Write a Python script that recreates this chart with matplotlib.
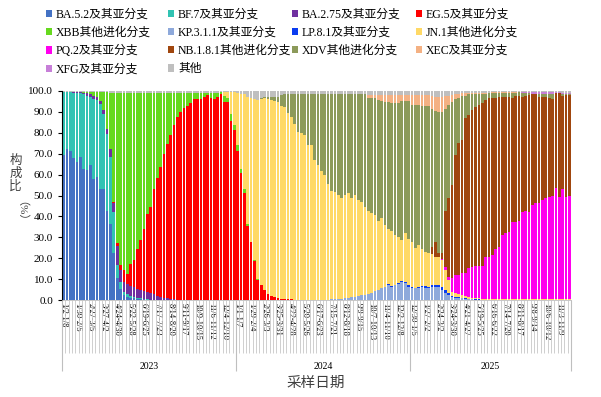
import numpy as np
import matplotlib
matplotlib.use('Agg')
from matplotlib import pyplot as plt
from matplotlib.patches import Patch
import matplotlib.transforms as mtransforms

plt.rcParams['font.family'] = ['Liberation Serif', 'Noto Sans CJK SC']

years = ['2023', '2024', '2025']
weeks_per_year = [52, 52, 48]

tick_labels_2023 = ['1/2-1/8', '1/30-2/5', '2/27-3/5', '3/27-4/2', '4/24-4/30', '5/22-5/28', '6/19-6/25',
                    '7/17-7/23', '8/14-8/20', '9/11-9/17', '10/9-10/15', '11/6-11/12', '12/4-12/10']
tick_labels_2024 = ['1/1-1/7', '1/29-2/4', '2/26-3/3', '3/25-3/31', '4/22-4/28', '5/20-5/26', '6/17-6/23',
                    '7/15-7/21', '8/12-8/18', '9/9-9/15', '10/7-10/13', '11/4-11/10', '12/2-12/8']
tick_labels_2025 = ['12/30-1/5', '1/27-2/2', '2/24-3/2', '3/24-3/30', '4/21-4/27', '5/19-5/25', '6/16-6/22',
                    '7/14-7/20', '8/11-8/17', '9/8-9/14', '10/6-10/12', '11/3-11/9']

# 构成比 (%)，每周一根柱子：2023 / 2024 / 2025
ba52 = [69.5, 72.3, 71.3, 68.0, 66.0, 68.6, 62.7, 62.0, 64.8, 58.1, 58.7, 52.9, 52.9,
        42.5, 36.5, 22.7, 10.5, 5.5, 2.5, 1.5, 1.0, 0.8, 0.6, 0.5, 0.4, 0.3,
        0.2, 0.2, 0.1, 0.1, 0.1] + [0] * 21 + [0] * 52 + [0] * 48
bf7 = [30.0, 27.2, 28.0, 31.2, 33.2, 30.2, 35.6, 35.8, 32.5, 38.2, 36.8, 40.8, 36.2,
       37.0, 32.0, 19.5, 6.5, 3.0, 1.5, 1.2, 0.8, 0.5, 0.4, 0.3, 0.2, 0.2,
       0.1, 0.1, 0.1] + [0] * 23 + [0] * 52 + [0] * 48
ba275 = [0, 0, 0.2, 0.3, 0.3, 0.5, 0.7, 1.0, 1.2, 1.5, 1.5, 1.5, 1.8,
         2.5, 3.5, 4.3, 9.0, 6.0, 4.5, 5.0, 5.0, 4.8, 4.5, 4.2, 4.0, 3.5,
         3.0, 2.5, 2.0, 1.5, 1.0, 0.8, 0.5, 0.4, 0.3, 0.2, 0.2, 0.1, 0.1,
         0.1] + [0] * 12 + [0] * 52 + [0] * 48
eg5 = ([0] * 15 +
       [0.6, 1.5, 2.5, 6.0, 4.7, 10.5, 13.1, 18.9, 23.7, 29.4, 37.0, 41.1, 50.2,
        56.4, 62.2, 68.6, 73.8, 78.5, 83.2, 87.2, 89.5, 91.4, 92.8, 94.3, 95.8,
        96.1, 96.2, 97.3, 98.2, 96.8, 96.2, 97.0, 98.5, 94.8, 94.5, 85.4, 81.3] +
       [71.5, 61.0, 51.0, 35.6, 27.6, 18.8, 9.6, 7.2, 4.8, 2.7, 2.1, 1.3, 1.0,
        0.7, 0.6, 0.5, 0.4, 0.3, 0.3, 0.2, 0.2, 0.1, 0.1, 0.1] + [0] * 28 + [0] * 48)
xbb = ([0, 0, 0, 0, 0, 0.2, 0.5, 0.7, 1.0, 1.7, 2.5, 4.3, 8.6,
        17.5, 27.0, 52.0, 71.5, 82.0, 84.5, 86.6, 81.7, 79.8, 74.6, 70.3, 65.0, 58.0,
        54.6, 46.0, 40.4, 35.2, 29.3, 24.4, 20.0, 15.4, 11.5, 9.3, 7.4, 6.1, 4.6,
        3.1, 2.9, 2.8, 1.7, 0.8, 2.2, 2.8, 2.0, 1.0, 2.7, 2.0, 3.5, 2.4] +
       [2.5, 1.8, 2.0, 0.6, 0.4, 0.3, 0.3, 0.2, 0.1, 0.1] + [0] * 42 + [0] * 48)
kp311 = ([0] * 52 + [0] * 28 +
         [0.5, 0.5, 0.5, 0.5, 0.8, 1.2, 1.6, 1.6, 2.0, 2.4, 2.4, 2.8, 3.2,
          4.5, 5.0, 5.8, 6.4, 7.2, 6.4, 7.0, 7.6, 8.8, 8.0, 6.4] +
         [6.0, 5.6, 5.8, 6.4, 6.0, 5.6, 6.2, 6.4, 6.4, 5.0, 3.5, 2.4, 1.5,
          1.2, 1.0, 0.8, 0.6, 0.5, 0.4, 0.3, 0.3, 0.2, 0.2, 0.2,
          0.1, 0.1, 0.1, 0.1, 0.1, 0.1, 0.1, 0.1, 0.1, 0.1, 0.1, 0.1,
          0.1, 0.1, 0.1, 0.1, 0.1, 0.1, 0.1, 0.1, 0.1, 0.1, 0.1, 0.1])
lp81 = ([0] * 52 + [0] * 45 + [0.3, 0.4, 0.3, 0.5, 0.4, 0.5, 0.6] +
        [0.3, 0.4, 0.5, 0.5, 0.6, 0.8, 0.8, 1.0, 1.0, 1.2, 1.2, 0.8, 0.5,
         0.4, 0.3, 0.3, 0.2, 0.2, 0.1, 0.1, 0.1, 0.1] + [0] * 26)
jn1 = ([0] * 48 + [2.0, 3.0, 10.5, 15.8] +
       [25.0, 35.7, 45.5, 60.8, 68.5, 76.9, 85.6, 88.6, 91.6, 93.2, 93.4, 93.7, 93.5,
        92.3, 91.9, 88.8, 87.2, 83.7, 80.2, 79.5, 78.8, 73.9, 73.9, 66.9, 64.6, 61.7,
        60.0, 55.3, 51.5, 51.0, 49.7, 48.5, 49.4, 49.8, 47.0, 48.6, 45.8, 44.6, 42.3,
        39.8, 38.6, 36.2, 32.8, 33.6, 29.5, 26.5, 26.2, 23.8, 22.2, 19.5, 23.4, 22.2] +
       [21.6, 18.7, 20.0, 17.5, 16.6, 16.0, 15.2, 13.3, 13.3, 13.0, 9.5, 6.4, 2.0,
        1.8, 1.5, 1.2, 1.0, 0.8, 0.7, 0.6, 0.5, 0.4, 0.3, 0.3,
        0.3, 0.3, 0.3, 0.3, 0.3, 0.3, 0.3, 0.3, 0.3, 0.3, 0.3, 0.3,
        0.3, 0.3, 0.3, 0.3, 0.3, 0.3, 0.3, 0.3, 0.3, 0.3, 0.3, 0.3])
pq2 = ([0] * 52 + [0] * 52 + [0] * 9 +
       [0.3, 1.5, 1.6, 6.4, 8.6, 9.2, 10.5, 11.0, 13.7, 14.8, 15.3, 15.4, 15.6,
        20.2, 20.2, 21.1, 24.1, 25.1, 30.6, 31.5, 32.1, 36.8, 37.1, 37.6, 41.9,
        42.2, 41.6, 45.1, 45.9, 46.1, 47.6, 48.2, 49.0, 49.6, 53.0, 49.0, 52.7,
        49.0, 49.4])
nb181 = ([0] * 52 + [0] * 52 + [0] * 6 +
         [3.0, 7.0, 2.0, 3.0, 26.8, 37.4, 44.6, 57.4, 63.0, 63.8, 74.2, 73.3, 75.0,
          76.2, 77.0, 77.7, 75.0, 75.8, 75.3, 72.3, 71.7, 66.2, 65.1, 64.5, 59.6,
          60.0, 59.5, 54.7, 54.9, 56.2, 52.8, 52.0, 50.7, 49.2, 48.4, 47.1, 46.2,
          45.4, 49.8, 44.7, 48.6, 48.2])
xdv = ([0] * 52 + [0] * 7 +
       [0.5, 0.5, 1.0, 1.5, 2.0, 2.5, 5.0, 6.0, 9.3, 11.0, 14.6, 18.1, 18.9,
        19.6, 24.6, 24.6, 31.6, 34.0, 36.9, 38.6, 43.3, 46.6, 47.1, 48.4, 49.6,
        48.4, 47.6, 50.0, 48.4, 50.8, 51.6, 53.9, 54.2, 54.6, 55.7, 57.8, 55.6,
        58.9, 60.8, 61.0, 62.9, 63.7, 66.3, 63.4, 66.1] +
       [65.3, 68.5, 66.9, 68.5, 69.7, 70.5, 66.3, 62.9, 67.3, 67.5, 49.0, 44.9, 39.5,
        26.6, 21.5, 20.9, 10.8, 9.8, 7.5, 6.0, 5.3, 4.7, 3.0, 2.4, 2.3, 2.3,
        1.9, 1.9, 2.1, 2.1, 2.3, 1.6, 1.8, 1.8, 1.3, 0.6, 0.4, 0.4, 1.5,
        1.5, 1.6, 2.1, 2.4, 0.0, 0.0, 0.6, 0.4, 0.4])
xec = ([0] * 52 + [0] * 39 +
       [1.2, 1.6, 1.6, 2.4, 3.0, 3.2, 3.2, 4.0, 4.0, 4.0, 3.0, 2.7, 2.7] +
       [4.8, 4.8, 4.8, 5.1, 5.1, 5.1, 6.0, 6.4, 7.0, 7.0, 6.0, 4.0, 3.5,
        2.5, 2.0, 1.5, 1.2, 0.7, 0.5, 0.5, 0.4, 0.3, 0.3, 0.2, 0.2, 0.2,
        0.2, 0.2, 0.2, 0.2, 0.2, 0.2] + [0] * 16)
xfg = ([0] * 52 + [0] * 52 + [0] * 33 +
       [0.5, 0.5, 0.5, 0.6, 0.6, 0.6, 0.6, 0.7, 0.7, 0.7, 0.6, 0.4, 0.8, 0.8, 0.8])
other = ([0.5, 0.5, 0.5, 0.5, 0.5, 0.5, 0.5, 0.5, 0.5, 0.5, 0.5, 0.5, 0.5,
          0.5, 1.0, 0.9, 1.0, 1.0, 1.0, 1.0, 1.0, 1.0, 1.0, 1.0, 1.0, 1.0,
          1.0, 1.0, 1.0, 1.0, 1.0, 1.0, 1.0, 1.0, 1.0, 1.0, 1.0, 1.0, 1.0,
          1.0, 1.0, 1.0, 1.0, 1.0, 1.0, 1.0, 1.0, 0.5, 0.5, 0.5, 0.6, 0.5] +
         [1.0, 1.5, 1.5, 3.0, 3.5, 4.0, 4.5, 3.5, 3.0, 3.0, 3.0, 3.0, 3.0,
          2.0, 1.5, 1.4, 1.4, 1.4, 1.4, 1.4, 1.4, 1.4, 1.4, 1.4, 1.4, 1.4,
          1.4, 1.4, 1.4, 1.4, 1.4, 1.4, 1.4, 1.4, 1.4, 1.4, 1.4, 1.4, 1.4,
          2.0, 2.0, 2.0, 2.0, 2.0, 2.0, 2.0, 2.0, 2.0, 2.0, 2.0, 2.0, 2.0] +
         [2.0, 2.0, 2.0, 2.0, 2.0, 2.0, 2.5, 3.0, 3.0, 3.0, 2.5, 2.5, 2.0,
          1.5, 1.5, 1.0, 1.0, 1.0, 1.0, 1.0, 1.0, 1.0, 1.0, 0.9,
          0.7, 0.7, 0.7, 0.7, 0.7, 0.7, 0.7, 0.7, 0.7, 0.7, 0.7, 0.7,
          0.7, 0.7, 0.7, 0.7, 0.7, 0.7, 0.7, 0.6, 0.4, 0.8, 0.8, 0.8])

series = [
    ('BA.5.2及其亚分支', ba52, '#4472C4'),
    ('BF.7及其亚分支', bf7, '#31C3B3'),
    ('BA.2.75及其亚分支', ba275, '#7030A0'),
    ('EG.5及其亚分支', eg5, '#FF0000'),
    ('XBB其他进化分支', xbb, '#66D91E'),
    ('KP.3.1.1及其亚分支', kp311, '#8EA9DB'),
    ('LP.8.1及其亚分支', lp81, '#0A3CF0'),
    ('JN.1其他进化分支', jn1, '#FFD966'),
    ('PQ.2及其亚分支', pq2, '#FF00EE'),
    ('NB.1.8.1其他进化分支', nb181, '#A0460E'),
    ('XDV其他进化分支', xdv, '#8C9A5A'),
    ('XEC及其亚分支', xec, '#F4B183'),
    ('XFG及其亚分支', xfg, '#C77FD8'),
    ('其他', other, '#BFBFBF'),
]

n = sum(weeks_per_year)
x = np.arange(n)

fig = plt.figure(figsize=(6.01, 3.97), dpi=100)
ax = fig.add_axes([0.103, 0.244, 0.847, 0.527])

bottom = np.zeros(n)
handles = []
for name, vals, color in series:
    vals = np.array(vals, dtype=float)
    ax.bar(x, vals, width=0.8, bottom=bottom, color=color, linewidth=0)
    bottom += vals
    handles.append(Patch(facecolor=color, label=name))

ax.set_xlim(-0.5, n - 0.5)
ax.set_ylim(0, 100)
ax.set_yticks(np.arange(0, 101, 10))
ax.set_yticklabels(['%.1f' % v for v in np.arange(0, 101, 10)])
ax.tick_params(axis='y', labelsize=8, direction='out', length=3, width=0.8)
for s in ['top', 'right']:
    ax.spines[s].set_visible(False)
ax.spines['left'].set_linewidth(0.8)
ax.spines['bottom'].set_color('#BFBFBF')
ax.spines['bottom'].set_linewidth(0.6)

# x轴：每4周一个标签
starts = np.cumsum([0] + weeks_per_year[:-1])
tick_pos = []
for st, w in zip(starts, weeks_per_year):
    tick_pos += list(range(st, st + w, 4))
ax.set_xticks(tick_pos)
ax.set_xticklabels(tick_labels_2023 + tick_labels_2024 + tick_labels_2025, rotation=-90, fontsize=6)
ax.tick_params(axis='x', length=0, pad=2)

trans = mtransforms.blended_transform_factory(ax.transData, ax.transAxes)
ax.vlines(np.arange(n + 1) - 0.5, -0.255, 0, transform=trans, colors='#C8C8C8', lw=0.6, clip_on=False)
bounds = list(starts - 0.5) + [n - 0.5]
ax.vlines(bounds, -0.34, 0, transform=trans, colors='#BFBFBF', lw=0.8, clip_on=False)
for st, w, yr in zip(starts, weeks_per_year, years):
    ax.text(st + w / 2 - 0.5, -0.316, yr, transform=trans, ha='center', va='center', fontsize=7)

fig.text(0.526, 1 - 383 / 397, '采样日期', ha='center', va='center', fontsize=10.5, color='#404040')
fig.text(0.026, 1 - 174 / 397, '构\n成\n比', ha='center', va='center', fontsize=9,
         linespacing=1.05, color='#404040')
fig.text(0.026, 1 - 217 / 397, '（%）', ha='center', va='center', fontsize=8, rotation=-90, color='#404040')

# 图例按行排列，逐列摆放
cols = [[0, 4, 8, 12], [1, 5, 9, 13], [2, 6, 10], [3, 7, 11]]
col_x = [46, 168, 292, 416]
for idx, cx in zip(cols, col_x):
    fig.legend([handles[i] for i in idx], [series[i][0] for i in idx], loc='upper left',
               bbox_to_anchor=(cx / 601, 0.978), frameon=False, fontsize=8.5,
               handlelength=0.55, handleheight=0.55, handletextpad=0.3,
               labelspacing=0.52, borderpad=0, borderaxespad=0)

fig.savefig('out.png', dpi=100)
